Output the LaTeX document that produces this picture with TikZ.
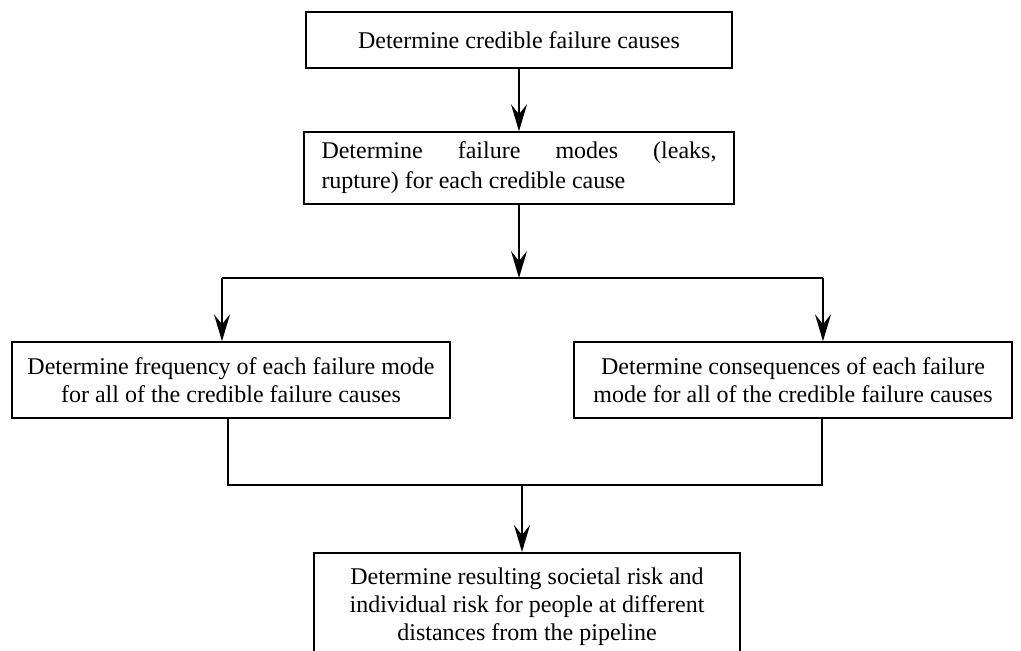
\documentclass[tikz,border=0pt]{standalone}
\usepackage{fontspec}
\setmainfont{Liberation Serif}
\usetikzlibrary{arrows.meta}
\begin{document}
\begin{tikzpicture}[x=1pt,y=-1pt,
  box/.style={draw, line width=1.5pt, inner sep=0pt, font=\fontsize{24}{28}\selectfont, align=center},
  arr/.style={line width=2.2pt, -{Stealth[length=27pt,width=16pt,inset=10pt]}},
  ln/.style={line width=1.5pt}]
\clip (0,0) rectangle (1021,651);
\fill[white] (0,0) rectangle (1021,651);
\node[box, minimum width=426, minimum height=56] (a) at (519,40) {Determine credible failure causes};
\node[box, minimum width=430, minimum height=72, text width=395, align=justify, font=\fontsize{24}{30}\selectfont] (b) at (519,168) {Determine failure modes (leaks,\linebreak rupture) for each credible cause};
\node[box, minimum width=438, minimum height=76] (c) at (231,380) {Determine frequency of each failure mode\\for all of the credible failure causes};
\node[box, minimum width=438, minimum height=76] (d) at (793,380) {Determine consequences of each failure\\mode for all of the credible failure causes};
\node[box, minimum width=426, minimum height=108, anchor=north] (e) at (527,552) {Determine resulting societal risk and\\individual risk for people at different\\distances from the pipeline};
\draw[arr] (a.south) -- (b.north);
\coordinate (bl) at (222,278);
\coordinate (brr) at (823,278);
\draw[ln] (bl) -- (brr);
\draw[arr] (b.south) -- (b.south |- bl);
\draw[arr] (bl) -- (bl |- c.north);
\draw[arr] (brr) -- (brr |- d.north);
\coordinate (ml) at (228,485);
\coordinate (mr) at (822,485);
\coordinate (mm) at (522,485);
\draw[ln] (c.south -| ml) -- (ml) -- (mr) -- (d.south -| mr);
\draw[arr] (mm) -- (mm |- e.north);
\end{tikzpicture}
\end{document}
